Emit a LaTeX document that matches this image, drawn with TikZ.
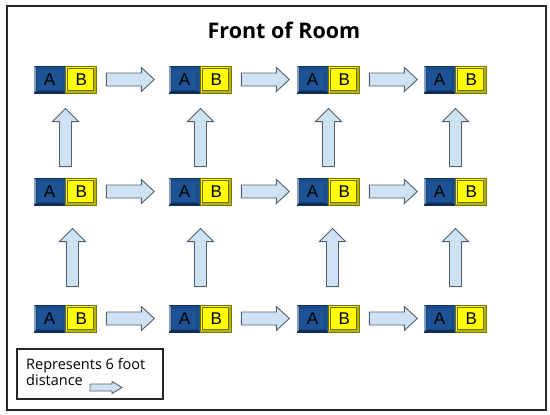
\documentclass[tikz,border=0pt]{standalone}
\usepackage{fontspec}
\setmainfont{Open Sans}
\newfontfamily\deskfont{Liberation Sans}
\usetikzlibrary{calc}
\definecolor{ablue}{HTML}{1D5394}
\definecolor{ablueD}{HTML}{0F2F57}
\definecolor{ablueM}{HTML}{17457C}
\definecolor{byel}{HTML}{FFFF00}
\definecolor{byelD}{HTML}{6E6E10}
\definecolor{byelM}{HTML}{B5B500}
\definecolor{arfill}{HTML}{CFE2F3}
\definecolor{ardraw}{HTML}{55606C}
\definecolor{framec}{HTML}{262626}
\tikzset{
  deskhalf/.style={minimum width=31, minimum height=27, inner sep=0, line width=0.9,
     font=\deskfont\fontsize{17}{17}\selectfont, text=black},
  deskA/.style={deskhalf, fill=ablue, draw=ablueD},
  deskB/.style={deskhalf, fill=byel, draw=byelD},
  arrowst/.style={fill=arfill, draw=ardraw, line width=0.9, line join=miter},
  pics/barrow/.style n args={4}{code={
    \draw[arrowst] (0,-#2) -- ({#1-#4},-#2) -- ({#1-#4},-#3) -- (#1,0)
        -- ({#1-#4},#3) -- ({#1-#4},#2) -- (0,#2) -- cycle;}},
}
\begin{document}
\begin{tikzpicture}[x=1pt,y=-1pt]
\useasboundingbox (0,0) rectangle (550,415);
\fill[white] (0,0) rectangle (550,415);
\draw[framec, line width=2.4] (7,6) rectangle (546,410);
\node[anchor=base, font=\bfseries\fontsize{21.5}{26}\selectfont] (title) at (284,38) {Front of Room};
% desks
\foreach \r/\y in {1/79.5, 2/191.5, 3/318.5}{
  \foreach \c/\x in {1/34, 2/169, 3/297, 4/424}{
    \path[fill=ablue, draw=ablueD, line width=0.9] (\x,\y-13.5) rectangle (\x+31,\y+13.5);
    \path[fill=byel, draw=byelD, line width=0.9] (\x+31,\y-13.5) rectangle (\x+62,\y+13.5);
    % bevels
    \fill[white!45!ablue] (\x,\y-13.5) -- (\x+2.5,\y-11) -- (\x+2.5,\y+11) -- (\x,\y+13.5) -- cycle;
    \fill[ablueD] (\x,\y+13.5) -- (\x+2.5,\y+11) -- (\x+28.5,\y+11) -- (\x+31,\y+13.5) -- cycle;
    \draw[ablueM, line width=0.5] (\x+2.5,\y-11) rectangle (\x+28.5,\y+11);
    \fill[byelM] (\x+62,\y-13.5) -- (\x+59.5,\y-11) -- (\x+59.5,\y+11) -- (\x+62,\y+13.5) -- cycle;
    \fill[byelM] (\x+31,\y+13.5) -- (\x+33.5,\y+11) -- (\x+59.5,\y+11) -- (\x+62,\y+13.5) -- cycle;
    \draw[byelD, line width=0.5] (\x+33.5,\y-11) rectangle (\x+59.5,\y+11);
    \node[deskhalf] (a\r\c) at (\x+15.5,\y) {A};
    \node[deskhalf, anchor=west] (b\r\c) at (a\r\c.east) {B};
  }
}
% horizontal arrows
\foreach \r in {1,2,3}{
  \foreach \c in {1,2,3}{
    \path ($(b\r\c.east)+(9,0)$) pic {barrow={48}{6.5}{12}{13}};
  }
}
% vertical arrows, upper rows (row2 -> row1)
\foreach \c in {1,2,3,4}{
  \path ($(a2\c.north east)+(0,-11)$) pic[rotate=90] {barrow={58}{6}{13}{13}};
}
% vertical arrows, lower rows (row3 -> row2)
\foreach \c/\dx in {1/7, 2/0, 3/4, 4/0}{
  \path ($(a3\c.north east)+(\dx,-18)$) pic[rotate=90] {barrow={58}{6}{13}{13}};
}
% legend
\draw[framec, line width=1.4] (17,349) rectangle (163,399);
\node[anchor=north west, inner sep=0, align=left, font=\fontsize{14.5}{16}\selectfont] (leg) at (26,358) {Represents 6 foot\\distance};
\path (90,387.5) pic {barrow={32}{3.5}{6}{10}};
\end{tikzpicture}
\end{document}
